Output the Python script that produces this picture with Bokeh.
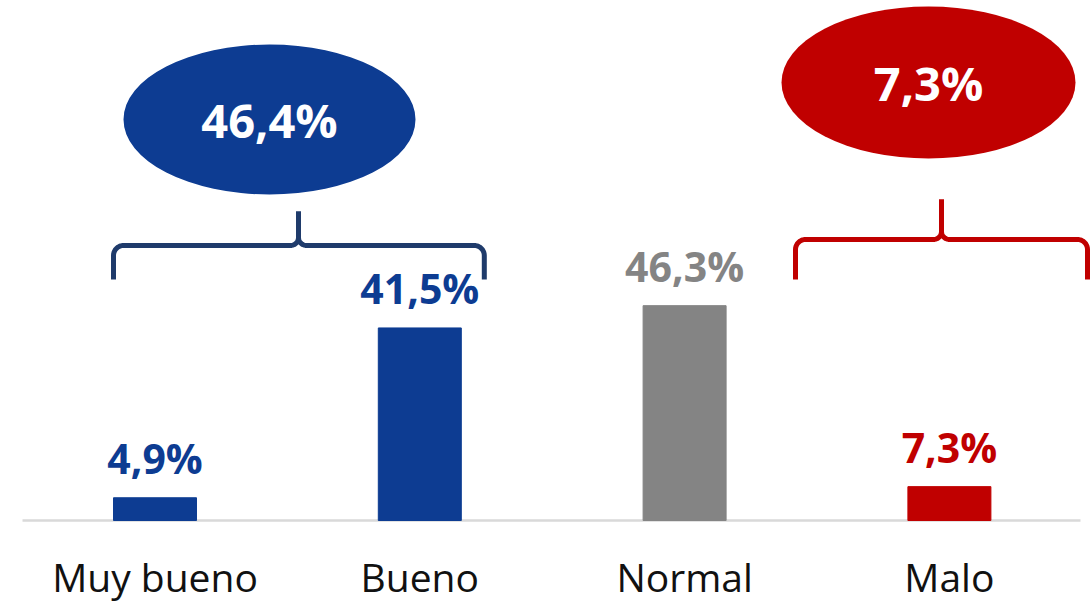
import numpy as np
from bokeh.plotting import figure
from bokeh.models import Range1d, ColumnDataSource
from bokeh.core.properties import value
from bokeh.embed import file_html
from bokeh.resources import INLINE

# ---- data ----
categories = ["Muy bueno", "Bueno", "Normal", "Malo"]
values = [4.9, 41.5, 46.3, 7.3]
bar_colors = ["#0d3c92", "#0d3c92", "#848484", "#c00000"]
group_positive = [0, 1]   # Muy bueno + Bueno
group_negative = [3]      # Malo

def fmt(v):
    return f"{v:.1f}".replace(".", ",") + "%"

# ---- layout constants (pixels) ----
W, H = 1092, 603
PX_X = 264.8          # px per category unit
PX_Y = 4.64           # px per percent
BASE_PX = 520         # baseline position from top of figure
x0 = 0.5 - 154.5 / PX_X
y0 = -(H - BASE_PX) / PX_Y

def dx(px):
    return px / PX_X

def dy(px):
    return px / PX_Y

def yscr(py):
    # screen row (from top) -> data y
    return (BASE_PX - py) / PX_Y

def xscr(px):
    return x0 + px / PX_X

p = figure(width=W, height=H, output_backend="svg", toolbar_location=None,
           x_range=Range1d(x0, x0 + W / PX_X), y_range=Range1d(y0, y0 + H / PX_Y),
           x_axis_location=None, y_axis_location=None, min_border=0,
           background_fill_color="white", border_fill_color="white")
p.grid.visible = False
p.outline_line_color = None

n = len(categories)
xs = np.arange(n) + 0.5
src = ColumnDataSource(dict(
    x=xs, top=values, color=bar_colors,
    label=[fmt(v) for v in values],
    label_y=[v + dy(40) for v in values],
    cat=categories,
))

# baseline
p.segment(x0=[xscr(22)], y0=[0], x1=[xscr(1080)], y1=[0], line_color="#d9d9d9", line_width=2.5)

# bars
p.vbar(x="x", top="top", bottom=0, width=dx(83), color="color", source=src)

# value labels
p.text(x="x", y="label_y", text="label", source=src, text_align="center",
       text_baseline="middle", text_font=value("Open Sans"), text_font_size="41px",
       text_font_style="bold", text_color="color")

# category labels
p.text(x="x", y=yscr(576), text="cat", source=src, text_align="center",
       text_baseline="middle", text_font=value("Open Sans"), text_font_size="39px",
       text_color="#111111")

def brace(xl, xr, xt, yh, yb, yt, r=10, r2=8, steps=12):
    rx, ry = dx(r), dy(r)
    r2x, r2y = dx(r2), dy(r2)
    th = np.linspace(np.pi, np.pi / 2, steps)
    cl = (xl + rx + rx * np.cos(th), yh - ry + ry * np.sin(th))
    th2 = np.linspace(-np.pi / 2, 0, steps)
    tl = (xt - r2x + r2x * np.cos(th2), yh + r2y + r2y * np.sin(th2))
    left_x = [xl] + list(cl[0]) + list(tl[0]) + [xt]
    left_y = [yb] + list(cl[1]) + list(tl[1]) + [yt]
    th3 = np.linspace(np.pi, 3 * np.pi / 2, steps)
    tr = (xt + r2x + r2x * np.cos(th3), yh + r2y + r2y * np.sin(th3))
    th4 = np.linspace(np.pi / 2, 0, steps)
    cr = (xr - rx + rx * np.cos(th4), yh - ry + ry * np.sin(th4))
    right_x = [xt] + list(tr[0]) + list(cr[0]) + [xr]
    right_y = [yt] + list(tr[1]) + list(cr[1]) + [yb]
    return [left_x, right_x], [left_y, right_y]

half = dx(83) / 2
# positive group bracket
bx, by = brace(xs[group_positive[0]] - half, xs[group_positive[-1]] + half + dx(23),
               xscr(298), yscr(245), yscr(279), yscr(211))
p.multi_line(bx, by, line_color="#1f3b6b", line_width=5, line_join="round", line_cap="butt")
# negative group bracket
bx, by = brace(xscr(795), xscr(1087), xscr(941),
               yscr(239), yscr(279), yscr(199))
p.multi_line(bx, by, line_color="#c00000", line_width=5, line_join="round", line_cap="butt")

# ellipses with group totals
pos_total = sum(values[i] for i in group_positive)
neg_total = sum(values[i] for i in group_negative)
ell = ColumnDataSource(dict(
    x=[xscr(269), xscr(928)],
    y=[yscr(119), yscr(82)],
    w=[292, 294], h=[150, 152],
    color=["#0d3c92", "#c00000"],
    label=[fmt(round(pos_total, 1)), fmt(round(neg_total, 1))],
))
p.ellipse(x="x", y="y", width="w", height="h", width_units="screen",
          height_units="screen", fill_color="color", line_color=None, source=ell)
p.text(x="x", y="y", text="label", source=ell, text_align="center",
       text_baseline="middle", text_font=value("Open Sans"), text_font_size="47px",
       text_font_style="bold", text_color="white")

open("out.html", "w").write(file_html(p, INLINE))
